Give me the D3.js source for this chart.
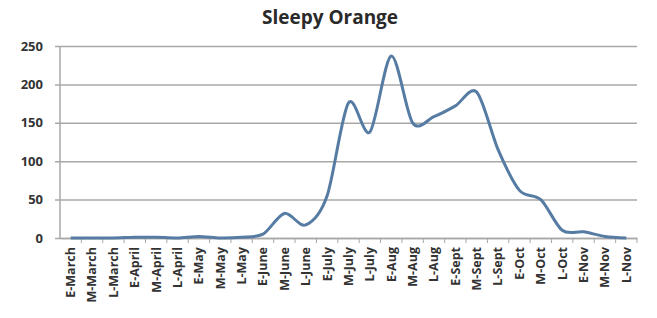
<!DOCTYPE html>
<html>
<head>
<meta charset="utf-8">
<script src="https://cdn.jsdelivr.net/npm/d3@7"></script>
<style>
  body { margin: 0; background: #fff; }
  text { font-family: "Open Sans", "Liberation Sans", sans-serif; }
</style>
</head>
<body>
<div class="chart"></div>
<script>
(function () {
  var categories = ['E-March', 'M-March', 'L-March', 'E-April', 'M-April', 'L-April',
    'E-May', 'M-May', 'L-May', 'E-June', 'M-June', 'L-June', 'E-July', 'M-July', 'L-July',
    'E-Aug', 'M-Aug', 'L-Aug', 'E-Sept', 'M-Sept', 'L-Sept', 'E-Oct', 'M-Oct', 'L-Oct',
    'E-Nov', 'M-Nov', 'L-Nov'];
  var counts = [0, 0, 0, 1, 1, 0, 2, 0, 1, 5, 32, 17, 55, 176, 138, 237, 150, 158, 172,
    190, 115, 62, 50, 10, 8, 2, 0];
  var yTicks = [0, 50, 100, 150, 200, 250];
  var title = 'Sleepy Orange';

  var svg = d3.select('.chart').append('svg')
    .attr('width', 657)
    .attr('height', 318);
  var margin = {top: 46, right: 20, bottom: 80, left: 60};
  var width = +svg.attr('width') - margin.left - margin.right;
  var height = +svg.attr('height') - margin.top - margin.bottom;
  var g = svg.append('g').attr('transform', 'translate(' + margin.left + ',' + margin.top + ')');

  var x = d3.scaleBand()
    .domain(categories)
    .range([0, width]);
  var y = d3.scaleLinear()
    .domain([0, 250])
    .range([height, 0]);

  // title
  svg.append('text')
    .attr('x', 330)
    .attr('y', 24)
    .attr('font-size', '19px')
    .attr('font-weight', 'bold')
    .attr('fill', '#2a2a2a')
    .style('text-anchor', 'middle')
    .text(title);

  // grid + y axis
  var axisLeft = d3.axisLeft(y)
    .tickValues(yTicks)
    .tickSize(-width)
    .tickPadding(17);
  var gy = g.append('g')
    .attr('class', 'axis axis--y')
    .call(axisLeft);
  gy.select('.domain').remove();
  gy.selectAll('.tick line')
    .attr('x1', -5)
    .attr('stroke', '#a8a8a8')
    .attr('stroke-width', 1.5);
  gy.selectAll('.tick text')
    .attr('font-size', '13px')
    .attr('font-weight', 'bold')
    .attr('fill', '#333');

  g.append('line')
    .attr('x1', 0).attr('x2', 0)
    .attr('y1', 0).attr('y2', height)
    .attr('stroke', '#a8a8a8')
    .attr('stroke-width', 1.5);

  // x axis
  var axisBottom = d3.axisBottom(x)
    .tickSize(0)
    .tickPadding(8);
  var gx = g.append('g')
    .attr('class', 'axis axis--x')
    .attr('transform', 'translate(0,' + height + ')')
    .call(axisBottom);
  gx.select('.domain')
    .attr('stroke', '#a8a8a8')
    .attr('stroke-width', 1.5);
  gx.selectAll('.tick text')
    .attr('font-size', '12.5px')
    .attr('font-weight', 'bold')
    .attr('fill', '#333')
    .attr('transform', 'rotate(-90)')
    .attr('x', -9)
    .attr('y', 0)
    .attr('dy', '0.35em')
    .style('text-anchor', 'end');
  // tick marks between categories
  gx.selectAll('.sep')
    .data(categories)
    .enter().append('line')
    .attr('class', 'sep')
    .attr('x1', function (d) { return x(d) + x.bandwidth(); })
    .attr('x2', function (d) { return x(d) + x.bandwidth(); })
    .attr('y1', 0)
    .attr('y2', 5)
    .attr('stroke', '#a8a8a8');

  // line
  var line = d3.line()
    .curve(d3.curveCardinal.tension(0.1))
    .x(function (d, i) { return x(categories[i]) + x.bandwidth() / 2; })
    .y(function (d) { return y(d); });

  g.append('path')
    .datum(counts)
    .attr('d', line)
    .style('fill', 'none')
    .style('stroke', '#567ca3')
    .style('stroke-width', 3);
})();
</script>
</body>
</html>
